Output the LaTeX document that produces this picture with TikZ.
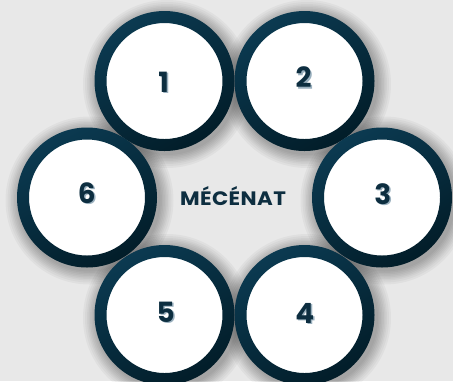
\documentclass[tikz,border=0pt]{standalone}
\usepackage{fontspec}
\newfontfamily\pop{Poppins}
\newfontfamily\popw{Poppins}[FakeStretch=1.1, LetterSpace=2]
\definecolor{bg}{HTML}{E8E8E8}
\definecolor{ringtop}{HTML}{0B3A51}
\definecolor{ringbot}{HTML}{021D29}
\definecolor{shade}{HTML}{9AB0BE}
\definecolor{txt}{HTML}{0D2E40}
\newcommand{\shadednum}[1]{\makebox[0pt][l]{\hspace{1.5bp}\raisebox{-1.6bp}{\textcolor{shade}{#1}}}#1}
\tikzset{
  ringshadow/.style={fill=black, fill opacity=0.035, draw=none},
  numtext/.style={font=\pop\bfseries\fontsize{28}{28}\selectfont, text=txt, inner sep=0pt},
}
\begin{document}
\begin{tikzpicture}[x=1bp,y=-1bp]
\useasboundingbox (0,0) rectangle (453,381);
\fill[bg] (0,0) rectangle (453,381);
% centres
\coordinate (c1) at (164.5,81);
\coordinate (c2) at (304.5,81);
\coordinate (c3) at (382,197.5);
\coordinate (c4) at (304.5,315);
\coordinate (c5) at (164.5,315);
\coordinate (c6) at (87,197.5);
% shadows
\foreach \c in {c1,c2,c3,c4,c5,c6}{
  \foreach \r in {71,72.5,74,75.5,77,78.5,80,82,84}{
    \fill[ringshadow] ([shift={(2.5,3)}]\c) circle[radius=\r];
  }
}
% rings
\foreach \c in {c1,c2,c3,c4,c5,c6}{
  \fill[white] (\c) circle[radius=64];
  \shade[even odd rule, top color=ringtop, bottom color=ringbot, shading angle=30]
    (\c) circle[radius=70] (\c) circle[radius=58];
}
% numbers
\foreach \n/\x/\y in {1/163/82,2/303/77,3/382/194,4/304/313,5/165/312,6/86/193}{
  \node[numtext] (n\n) at (\x+0.7,\y+0.8) {\shadednum{\n}};
}
\node[font=\popw\bfseries\fontsize{19.5}{19.5}\selectfont, text=txt, inner sep=0pt] (title) at (233,196) {MÉCÉNAT};
\end{tikzpicture}
\end{document}
